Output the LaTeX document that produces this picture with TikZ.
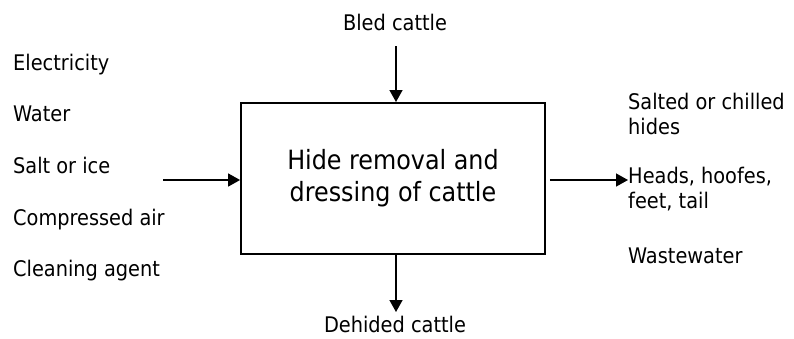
\documentclass[tikz,border=0pt]{standalone}
\usepackage{fontspec}
\setmainfont{DejaVu Sans Condensed}
\usetikzlibrary{arrows.meta}
\begin{document}
\begin{tikzpicture}[x=1pt,y=-1pt,
  lbl/.style={inner sep=0pt,anchor=base west,font=\fontsize{21.5}{25}\selectfont},
  lbl2/.style={lbl,align=left},
  procbox/.style={draw,line width=1.8pt,minimum width=304pt,minimum height=151pt,inner sep=0pt,
     align=center,font=\fontsize{26.5}{32}\selectfont},
  arr/.style={line width=1.5pt,-{Triangle[width=13pt,length=12pt]}}]
\useasboundingbox (0,0) rectangle (794,338);
\node[procbox] (box) at (393,178.4) {Hide removal and\\dressing of cattle};
% inputs
\node[lbl] (e) at (13,70) {Electricity};
\node[lbl] (w) at (13,121.7) {Water};
\node[lbl] (s) at (13,173.3) {Salt or ice};
\node[lbl] (c) at (13,225) {Compressed air};
\node[lbl] (g) at (13,276.7) {Cleaning agent};
% outputs (base anchor = last line)
\node[lbl2] (o1) at (628,134) {Salted or chilled\\hides};
\node[lbl2] (o2) at (628,208) {Heads, hoofes,\\feet, tail};
\node[lbl] (o3) at (628,263) {Wastewater};
% top and bottom
\node[lbl,anchor=base] (bled) at (395,30) {Bled cattle};
\node[lbl,anchor=base] (dehided) at (395,332.5) {Dehided cattle};
\coordinate (tin) at (396,46);
\coordinate (bout) at (396,312);
\coordinate (lin) at (163,180);
\coordinate (rout) at (628,180);
\draw[arr] (tin) -- (tin |- box.north);
\draw[arr] (bout |- box.south) -- (bout);
\draw[arr] (lin) -- (lin -| box.west);
\draw[arr] ([xshift=4pt]rout -| box.east) -- (rout);
\end{tikzpicture}
\end{document}
